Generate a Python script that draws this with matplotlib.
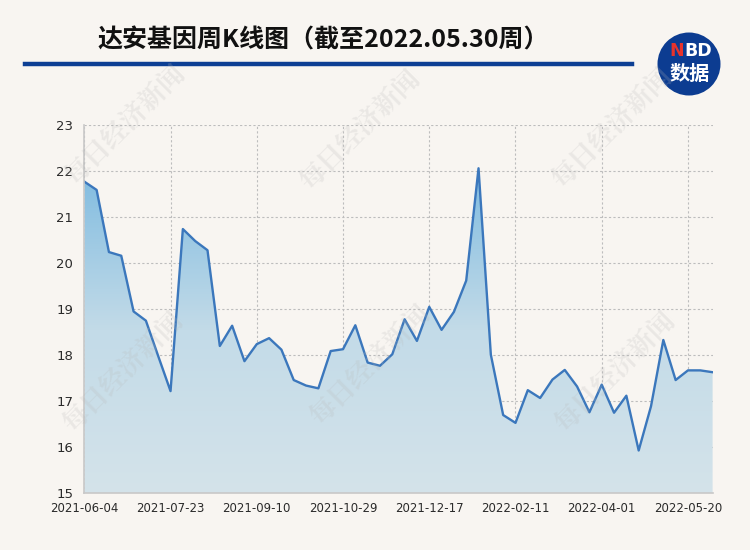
import numpy as np
import matplotlib
matplotlib.use("Agg")
import matplotlib.pyplot as plt
from matplotlib.patches import Circle
from matplotlib.lines import Line2D
from matplotlib.colors import LinearSegmentedColormap

plt.rcParams['font.family'] = ['Noto Sans CJK SC', 'DejaVu Sans']

# weekly close prices, 2021-06-04 .. 2022-05-30
prices = [21.77, 21.59, 20.24, 20.16, 18.95, 18.75, 17.98, 17.22, 20.74, 20.48,
          20.28, 18.20, 18.64, 17.87, 18.24, 18.37, 18.12, 17.46, 17.34, 17.28,
          18.09, 18.13, 18.65, 17.84, 17.77, 18.02, 18.78, 18.31, 19.05, 18.55,
          18.94, 19.62, 22.06, 18.01, 16.70, 16.53, 17.24, 17.07, 17.47, 17.68,
          17.32, 16.76, 17.36, 16.75, 17.12, 15.93, 16.89, 18.33, 17.46, 17.67,
          17.67, 17.63]
tick_labels = ['2021-06-04', '2021-07-23', '2021-09-10', '2021-10-29',
               '2021-12-17', '2022-02-11', '2022-04-01', '2022-05-20']
y_ticks = [15, 16, 17, 18, 19, 20, 21, 22, 23]

title = '达安基因周K线图（截至2022.05.30周）'
watermark = '每日经济新闻'

BG = '#f8f5f1'
LINE = '#3b77bc'
GRID = '#bdbdbd'

x = np.arange(len(prices))
y = np.array(prices)

fig = plt.figure(figsize=(7.5, 5.5), dpi=100, facecolor=BG)
ax = fig.add_axes([84.3 / 750, 1 - 493.3 / 550, (712.6 - 84.3) / 750, (493.3 - 125) / 550])
ax.set_facecolor(BG)

# gradient area under the line
poly = ax.fill_between(x, y, 15, color='none', lw=0)
grad = np.linspace(0, 1, 256).reshape(-1, 1)
cmap = LinearSegmentedColormap.from_list('g', ['#d4e3ea', '#c3dbe8', '#7fbbe0'])
img = ax.imshow(grad, extent=[x[0], x[-1], 15, y.max()], origin='lower',
                aspect='auto', cmap=cmap, zorder=1)
img.set_clip_path(poly.get_paths()[0], transform=ax.transData)

ax.plot(x, y, color=LINE, lw=1.7, zorder=3)

ax.set_xlim(x[0], x[-1])
ax.set_ylim(15, 23)
ax.set_yticks(y_ticks)
tick_pos = x[::7][:len(tick_labels)]
ax.set_xticks(tick_pos)
ax.set_xticklabels(tick_labels, fontfamily='DejaVu Sans', fontsize=8.5, color='#2a2a2a')
ax.set_yticklabels([str(v) for v in y_ticks], fontfamily='DejaVu Sans', fontsize=9.5, color='#2a2a2a')
ax.tick_params(length=0, pad=6)
ax.tick_params(axis='y', pad=8)

ax.grid(True, color=GRID, lw=0.8, linestyle=(0, (2, 2)), zorder=0)
ax.set_axisbelow(True)
for s in ['top', 'right']:
    ax.spines[s].set_visible(False)
for s in ['left', 'bottom']:
    ax.spines[s].set_color('#c8c8c8')
    ax.spines[s].set_linewidth(1.2)
    ax.spines[s].set_zorder(4)

# title and header rule
fig.text(323 / 750, 1 - 40 / 550, title, ha='center', va='center',
         fontsize=18, fontweight='bold', color='#111111')
fig.add_artist(Line2D([25 / 750, 632 / 750], [1 - 64 / 550, 1 - 64 / 550],
                      transform=fig.transFigure, color='#0d3f94', lw=3.2))

# NBD logo
fig.add_artist(Circle((6.89, 5.5 - 0.64), 0.315, transform=fig.dpi_scale_trans,
                      facecolor='#0c3c91', edgecolor='none'))
fig.text(684 / 750, 1 - 51 / 550, 'N', ha='right', va='center', fontsize=12.5,
         fontweight='bold', color='#e8332b', fontfamily='DejaVu Sans')
fig.text(684 / 750, 1 - 51 / 550, 'BD', ha='left', va='center', fontsize=12.5,
         fontweight='bold', color='white', fontfamily='DejaVu Sans')
fig.text(690 / 750, 1 - 73 / 550, '数据', ha='center', va='center', fontsize=14.5,
         fontweight='bold', color='white')

# watermarks
for cx, cy in [(125, 125), (360, 130), (612, 128), (123, 372), (370, 365), (615, 372)]:
    fig.text(cx / 750, 1 - cy / 550, watermark, rotation=45, ha='center', va='center',
             fontsize=19, fontweight='bold', color='#b8b8b8', alpha=0.22, zorder=10,
             family=['Noto Serif CJK SC', 'Noto Sans CJK SC'])

fig.savefig('out.png', dpi=100, facecolor=BG)
